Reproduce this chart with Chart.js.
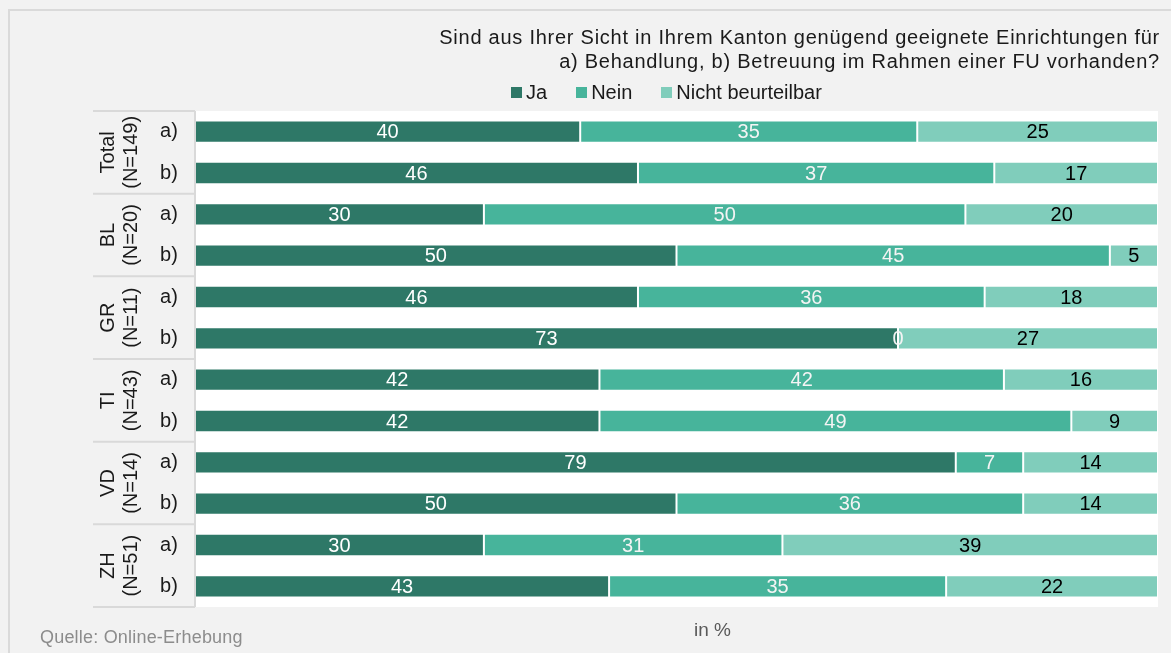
<!DOCTYPE html>
<html>
<head>
<meta charset="utf-8">
<script src="https://cdn.jsdelivr.net/npm/chart.js@4"></script>
<style>
    body{margin:0;background:#f2f2f2;font-family:"Liberation Sans",Arial,sans-serif;overflow:hidden}
    #frame{position:absolute;left:8px;top:9px;width:1300px;height:800px;border-left:2px solid #dadada;border-top:2px solid #dadada}
    #wrap{position:absolute;left:0;top:0;width:1171px;height:653px}
    #title{position:absolute;right:11px;top:25px;text-align:right;font-size:20px;line-height:24px;letter-spacing:0.75px;color:#1a1a1a}
    #legend{position:absolute;left:511px;top:81px;display:flex;gap:29px;font-size:20px;color:#1a1a1a}
    #legend span{display:flex;align-items:center}
    #legend i{display:inline-block;width:11px;height:11px;margin-right:4px}
    #source{position:absolute;left:40px;top:627px;font-size:18px;letter-spacing:0.2px;color:#8c8c8c}
    #unit{position:absolute;left:694px;top:619px;font-size:19px;color:#595959}
</style>
</head>
<body>
<div id="frame"></div>
<div id="wrap"><canvas id="fuChart"></canvas></div>
<div id="title">Sind aus Ihrer Sicht in Ihrem Kanton genügend geeignete Einrichtungen für<br>a) Behandlung, b) Betreuung im Rahmen einer FU vorhanden?</div>
<div id="legend"></div>
<div id="source">Quelle: Online-Erhebung</div>
<div id="unit">in %</div>
<script>
// data
const groups = ['Total','BL','GR','TI','VD','ZH']
const groupN = ['(N=149)','(N=20)','(N=11)','(N=43)','(N=14)','(N=51)']
const items = ['a)','b)']
const rowLabels = groups.flatMap(()=>items)

const seriesNames = ['Ja','Nein','Nicht beurteilbar']
const ja    = [40,46,30,50,46,73,42,42,79,50,30,43]
const nein  = [35,37,50,45,36, 0,42,49, 7,36,31,35]
const nicht = [25,17,20, 5,18,27,16, 9,14,14,39,22]

const colors = ['#2e7867','#47b49b','#80cdbb']
const labelColors = ['#ffffff','#f4f4f4','#000000']

// legend
const legend = document.getElementById('legend')
seriesNames.forEach((name,i)=>{
    const s = document.createElement('span')
    s.innerHTML = `<i style="background:${colors[i]}"></i>${name}`
    legend.appendChild(s)
})

const font = '20px "Liberation Sans", Arial, sans-serif'

const panelPlugin = {
    id:'panel',
    beforeDatasetsDraw(chart){
        const {ctx, chartArea:a} = chart
        ctx.save()
        ctx.fillStyle = '#ffffff'
        ctx.fillRect(a.left, a.top, a.right-a.left, a.bottom-a.top)
        ctx.restore()
    },
    afterDraw(chart){
        const {ctx, chartArea:a, scales} = chart
        const y = scales.y
        const step = y.getPixelForValue(1) - y.getPixelForValue(0)
        ctx.save()
        ctx.strokeStyle = '#d9d9d9'
        ctx.lineWidth = 2
        // vertical line left of bars
        ctx.beginPath()
        ctx.moveTo(a.left, a.top)
        ctx.lineTo(a.left, a.bottom)
        ctx.stroke()
        // group separators
        for(let g=0; g<=groups.length; g++){
            const py = y.getPixelForValue(g*2) - step/2
            ctx.beginPath()
            ctx.moveTo(93, py)
            ctx.lineTo(a.left, py)
            ctx.stroke()
        }
        ctx.fillStyle = '#1a1a1a'
        ctx.font = font
        ctx.textBaseline = 'middle'
        ctx.textAlign = 'center'
        rowLabels.forEach((lab,i)=>{
            ctx.fillText(lab, 169, y.getPixelForValue(i))
        })
        groups.forEach((g,i)=>{
            const cy = (y.getPixelForValue(i*2) + y.getPixelForValue(i*2+1))/2
            ctx.save()
            ctx.translate(0, cy)
            ctx.rotate(-Math.PI/2)
            ctx.fillText(g, 0, 108)
            ctx.fillText(groupN[i], 0, 131)
            ctx.restore()
        })
        ctx.restore()
    },
    afterDatasetsDraw(chart){
        const {ctx} = chart
        ctx.save()
        ctx.font = font
        ctx.textAlign = 'center'
        ctx.textBaseline = 'middle'
        chart.data.datasets.forEach((ds,di)=>{
            const meta = chart.getDatasetMeta(di)
            ctx.fillStyle = labelColors[di]
            meta.data.forEach((el,i)=>{
                const v = ds.data[i]
                if(v===null || v===undefined) return
                ctx.fillText(String(v), (el.x+el.base)/2, el.y+1)
            })
        })
        ctx.restore()
    }
}

new Chart(document.getElementById('fuChart'),{
    type:'bar',
    data:{
        labels:rowLabels,
        datasets:[ja,nein,nicht].map((d,i)=>({
            label:seriesNames[i],
            data:d,
            backgroundColor:colors[i],
            borderColor:'rgba(255,255,255,0.45)',
            borderWidth:1,
            borderSkipped:false,
            categoryPercentage:1,
            barPercentage:0.54
        }))
    },
    options:{
        indexAxis:'y',
        responsive:true,
        maintainAspectRatio:false,
        animation:false,
        layout:{padding:{left:195,right:13,top:111,bottom:46}},
        plugins:{legend:{display:false},title:{display:false},tooltip:{enabled:false}},
        scales:{
            x:{stacked:true,min:0,max:100,display:false},
            y:{stacked:true,display:false}
        }
    },
    plugins:[panelPlugin]
})
</script>
</body>
</html>
